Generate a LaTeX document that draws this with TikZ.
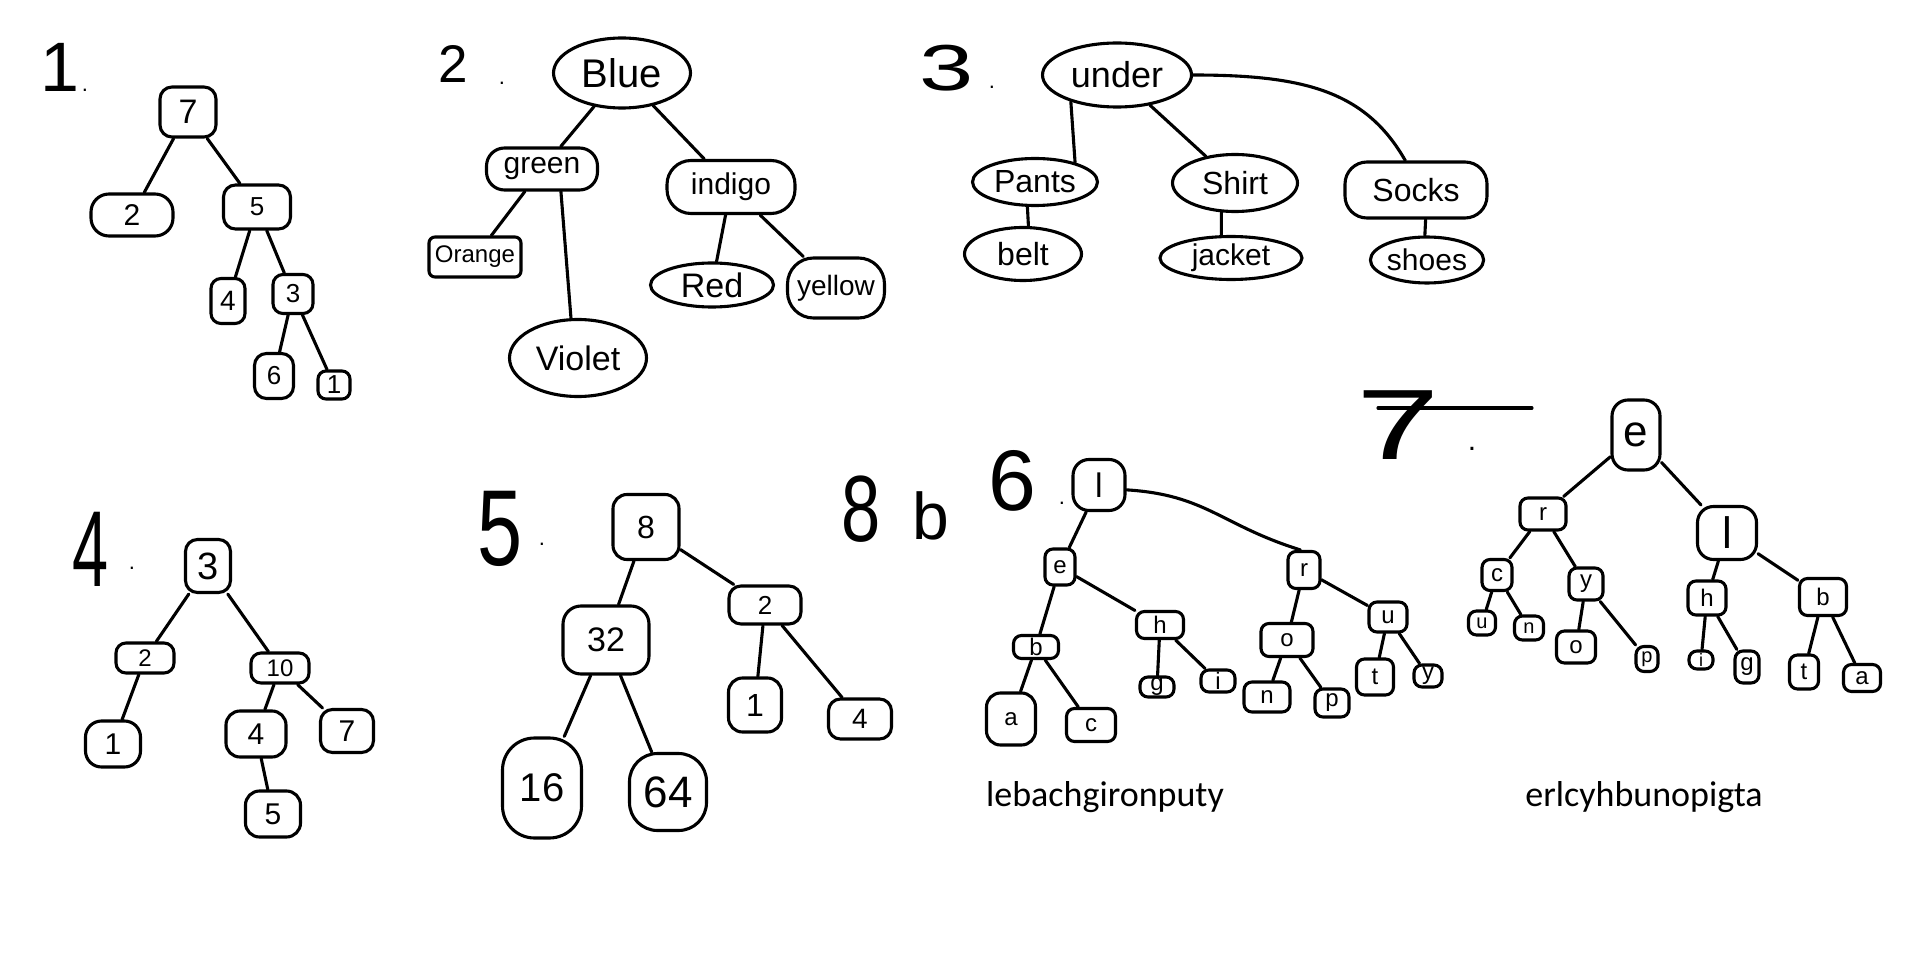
\documentclass[tikz,border=0pt]{standalone}
\usepackage{graphicx}
\usepackage{fontspec}
\setmainfont{Liberation Sans}
\newfontfamily\typedfont{Carlito}
\usetikzlibrary{shapes.geometric}
\newcommand\fsz[1]{\fontsize{#1}{#1}\selectfont}
\begin{document}
\begin{tikzpicture}[x=1pt,y=-1pt,
  nd/.style={draw,line width=3.1pt,rounded corners=12pt,inner sep=0pt},
  el/.style={draw,line width=3.1pt,ellipse,inner sep=0pt},
  sm/.style={nd,rounded corners=8pt,font=\fsz{24}},
  sz/.style 2 args={minimum width=#1pt,minimum height=#2pt},
  ed/.style={line width=3.1pt,line cap=round},
  lbl/.style={inner sep=0pt},
  dotlbl/.style={inner sep=0pt,font=\fsz{22}}]
\fill[white] (0,0) rectangle (1929,965);
\useasboundingbox (0,0) rectangle (1929,965);

% ---------- labels ----------
\node[lbl,font=\fsz{70}] (L1) at (60,67) {1};
\node[dotlbl] (L1d) at (85,90) {.};
\node[lbl,font=\fsz{53}] (L2) at (453,64) {2};
\node[dotlbl] (L2d) at (502,83) {.};
\node[lbl,font=\fsz{65}] (L3) at (947,68) {\scalebox{1.5}[1]{3}};
\node[dotlbl] (L3d) at (992,87) {.};
\node[lbl,font=\fsz{108}] (L4) at (91,549) {\scalebox{0.6}[1]{4}};
\node[dotlbl] (L4d) at (132,568) {.};
\node[lbl,font=\fsz{108}] (L5) at (500,529) {\scalebox{0.75}[1]{5}};
\node[dotlbl] (L5d) at (542,544) {.};
\node[lbl,font=\fsz{94}] (L8) at (861,509) {\scalebox{0.75}[1]{8}};
\node[lbl,font=\fsz{66}] (Lb) at (931,516) {b};
\node[lbl,font=\fsz{86}] (L6) at (1012,481) {6};
\node[dotlbl] (L6d) at (1062,503) {.};
\node[lbl,font=\fsz{100}] (L7) at (1398,425) {\scalebox{1.5}[1]{7}};
\node[lbl,font=\fsz{30}] (L7d) at (1472,449) {.};
\draw[ed] (1378,408) -- (1532,408);

% ---------- tree 1 ----------
\node[nd,sz={56}{50},font=\fsz{34}] (a7) at (188,112) {7};
\node[nd,sz={82}{42},rounded corners=18pt,font=\fsz{30}] (a2) at (132,215) {2};
\node[nd,sz={67}{44},font=\fsz{26}] (a5) at (257,207) {5};
\node[nd,sz={34}{45},rounded corners=10pt,font=\fsz{28}] (a4) at (228,301) {4};
\node[nd,sz={40}{39},rounded corners=10pt,font=\fsz{26}] (a3) at (293,294) {3};
\node[nd,sz={39}{45},rounded corners=12pt,font=\fsz{26}] (a6) at (274,376) {6};
\node[nd,sz={32}{28},rounded corners=8pt,font=\fsz{26}] (a1) at (334,385) {1};
\draw[ed] (a7)--(a2) (a7)--(a5) (a5)--(a4) (a5)--(a3) (a3)--(a6) (a3)--(a1);

% ---------- tree 2 ----------
\node[el,sz={137}{70},font=\fsz{40}] (bblue) at (622,73) {Blue};
\node[nd,sz={111}{42},rounded corners=18pt,font=\fsz{30}] (bgreen) at (542,169) {green};
\node[nd,sz={92}{40},rounded corners=6pt,font=\fsz{24}] (borange) at (475,257) {Orange};
\node[el,sz={137}{77},font=\fsz{34}] (bviolet) at (578,358) {Violet};
\node[nd,sz={128}{53},rounded corners=24pt,font=\fsz{30}] (bindigo) at (731,187) {indigo};
\node[el,sz={123}{44},font=\fsz{34}] (bred) at (712,285) {Red};
\node[nd,sz={97}{60},rounded corners=26pt,font=\fsz{28}] (byellow) at (836,288) {yellow};
\draw[ed] (bblue)--(bgreen) (bgreen)--(borange) (bgreen.-50)--(bviolet.100)
  (bblue)--(bindigo) (bindigo)--(bred) (bindigo)--(byellow);

% ---------- tree 3 ----------
\node[el,sz={149}{64},font=\fsz{36}] (cunder) at (1117,75) {under};
\node[el,sz={125}{47},font=\fsz{32}] (cpants) at (1035,182) {Pants};
\node[el,sz={125}{57},font=\fsz{32}] (cshirt) at (1235,183) {Shirt};
\node[nd,sz={142}{56},rounded corners=22pt,font=\fsz{32}] (csocks) at (1416,190) {Socks};
\node[el,sz={117}{53},font=\fsz{32}] (cbelt) at (1023,254) {belt};
\node[el,sz={142}{43},font=\fsz{30}] (cjacket) at (1231,258) {jacket};
\node[el,sz={109}{46},font=\fsz{30}] (cshoes) at (1427,260) {shoes};
\draw[ed] (cunder.210)--(cpants.26) (cunder)--(cshirt)
  (cunder.east) .. controls +(110,0) and +(-40,-70) .. (csocks.110)
  (cpants.253)--(cbelt.79) (cshirt.245)--(cjacket.113) (csocks.288)--(cshoes.95);

% ---------- tree 4 ----------
\node[nd,sz={45}{53},font=\fsz{38}] (d3) at (208,566) {3};
\node[nd,sz={58}{30},rounded corners=10pt,font=\fsz{24}] (d2) at (145,658) {2};
\node[nd,sz={58}{30},rounded corners=10pt,font=\fsz{24}] (d10) at (280,668) {10};
\node[nd,sz={55}{46},rounded corners=16pt,font=\fsz{30}] (d1) at (113,744) {1};
\node[nd,sz={60}{46},rounded corners=14pt,font=\fsz{30}] (d4) at (256,734) {4};
\node[nd,sz={53}{43},rounded corners=12pt,font=\fsz{30}] (d7) at (347,731) {7};
\node[nd,sz={55}{46},rounded corners=14pt,font=\fsz{30}] (d5) at (273,814) {5};
\draw[ed] (d3)--(d2) (d3)--(d10) (d2)--(d1) (d10)--(d4) (d10)--(d7) (d4)--(d5);

% ---------- tree 5 ----------
\node[nd,sz={66}{65},rounded corners=14pt,font=\fsz{32}] (e8) at (646,527) {8};
\node[nd,sz={86}{68},rounded corners=18pt,font=\fsz{34}] (e32) at (606,640) {32};
\node[nd,sz={72}{38},rounded corners=12pt,font=\fsz{26}] (e2) at (765,605) {2};
\node[nd,sz={53}{54},rounded corners=14pt,font=\fsz{32}] (e1) at (755,705) {1};
\node[nd,sz={63}{40},rounded corners=12pt,font=\fsz{28}] (e4) at (860,719) {4};
\node[nd,sz={79}{100},rounded corners=32pt,font=\fsz{40}] (e16) at (542,788) {16};
\node[nd,sz={77}{77},rounded corners=28pt,font=\fsz{44}] (e64) at (668,792) {64};
\draw[ed] (e8)--(e32) (e8)--(e2) (e32)--(e16) (e32)--(e64) (e2)--(e1) (e2)--(e4);

% ---------- tree 6 ----------
\node[nd,sz={52}{51},rounded corners=16pt,font=\fsz{34}] (fl) at (1099,485) {l};
\node[sm,sz={30}{36}] (fe) at (1060,567) {e};
\node[sm,sz={32}{37}] (fr) at (1304,570) {r};
\node[sm,sz={45}{23}] (fb) at (1036,647) {b};
\node[sm,sz={47}{27}] (fh) at (1160,625) {h};
\node[sm,sz={52}{33}] (fo) at (1287,640) {o};
\node[sm,sz={38}{30}] (fu) at (1388,617) {u};
\node[sm,sz={49}{52},rounded corners=14pt] (fa) at (1011,719) {a};
\node[sm,sz={49}{33}] (fc) at (1091,725) {c};
\node[sm,sz={34}{20}] (fg) at (1157,687) {g};
\node[sm,sz={34}{22}] (fi) at (1218,681) {i};
\node[sm,sz={46}{30}] (fn) at (1267,697) {n};
\node[sm,sz={34}{28}] (fp) at (1332,703) {p};
\node[sm,sz={37}{36}] (ft) at (1375,677) {t};
\node[sm,sz={28}{22}] (fy) at (1428,676) {y};
\draw[ed] (fl)--(fe) (fl.-10) .. controls +(80,5) and +(-80,-25) .. (fr.100)
  (fe)--(fb) (fe)--(fh) (fb)--(fa) (fb)--(fc) (fh)--(fg) (fh)--(fi)
  (fr)--(fo) (fr)--(fu) (fo)--(fn) (fo)--(fp) (fu)--(ft) (fu)--(fy);
\node[lbl,font=\typedfont\fsz{36}] (txt6) at (1105,797) {lebachgironputy};

% ---------- tree 7 ----------
\node[nd,sz={48}{70},rounded corners=16pt,font=\fsz{44}] (ge) at (1636,435) {e};
\node[sm,sz={46}{32}] (gr) at (1543,514) {r};
\node[nd,sz={59}{53},rounded corners=16pt,font=\fsz{44}] (gl) at (1727,533) {l};
\node[sm,sz={30}{31}] (gc) at (1497,575) {c};
\node[sm,sz={34}{32}] (gy) at (1586,584) {y};
\node[sm,sz={38}{34}] (gh) at (1707,598) {h};
\node[sm,sz={47}{37}] (gb) at (1823,597) {b};
\node[sm,sz={27}{24},font=\fsz{20}] (gu) at (1482,623) {u};
\node[sm,sz={29}{24},font=\fsz{20}] (gn) at (1529,628) {n};
\node[sm,sz={39}{32}] (go) at (1576,647) {o};
\node[sm,sz={22}{25},font=\fsz{20}] (gp) at (1647,659) {p};
\node[sm,sz={24}{18},font=\fsz{18}] (gi) at (1701,660) {i};
\node[sm,sz={24}{32}] (gg) at (1747,667) {g};
\node[sm,sz={29}{34}] (gt) at (1804,672) {t};
\node[sm,sz={37}{27}] (ga) at (1862,678) {a};
\draw[ed] (ge)--(gr) (ge)--(gl) (gr)--(gc) (gr)--(gy) (gc)--(gu) (gc)--(gn)
  (gy)--(go) (gy)--(gp) (gl)--(gh) (gl)--(gb) (gh)--(gi) (gh)--(gg)
  (gb)--(gt) (gb)--(ga);
\node[lbl,font=\typedfont\fsz{36}] (txt7) at (1644,797) {erlcyhbunopigta};
\end{tikzpicture}
\end{document}
